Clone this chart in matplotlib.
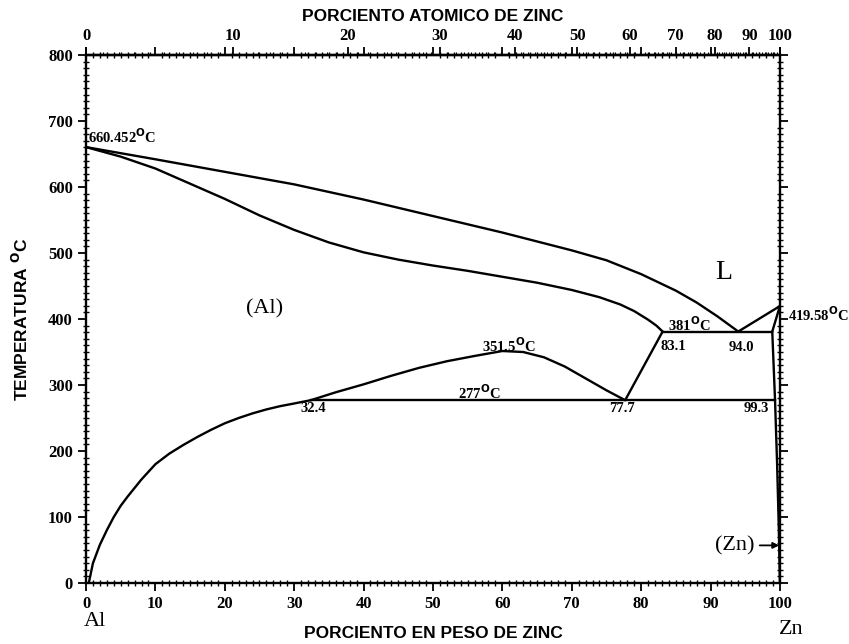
import numpy as np
import matplotlib
matplotlib.use('Agg')
import matplotlib.pyplot as plt
from matplotlib.ticker import MultipleLocator, FixedLocator

# Al-Zn phase diagram, wt% Zn on the bottom axis, at% Zn on top

# liquidus, Al side: from the Al melting point down to the eutectic
liq_w = [0.0, 10, 20, 30, 40, 50, 60, 70, 75, 80, 85, 88, 91, 94.0]
liq_t = [660.452, 642, 623, 604, 581, 556, 531, 504, 489, 468, 443, 425, 404, 381]

# solidus of (Al)
sol_w = [0.0, 5, 10, 15, 20, 25, 30, 35, 40, 45, 50, 55, 60, 65, 70, 74, 77, 79, 81, 82.2, 83.1]
sol_t = [660.452, 646, 628, 605, 582, 557, 535, 516, 501, 490, 481, 473, 464, 455, 444, 433,
         422, 412, 399, 390, 381]

# solvus of (Al), down to room temperature
solv_w = [0.4, 1, 2, 3, 4, 5, 6, 8, 10, 12, 14, 16, 18, 20, 22, 24, 26, 28, 30, 32.4]
solv_t = [0.0, 30, 58, 80, 100, 117, 131, 157, 180, 196, 209, 221, 232, 242, 250, 257, 263,
          268, 272, 277]

# miscibility gap in (Al)
gap_w = [32.4, 36, 40, 44, 48, 52, 56, 60, 63, 66, 69, 72, 75, 77.7]
gap_t = [277, 289, 301, 314, 326, 336, 344, 351.5, 350, 342, 328, 310, 292, 277]

# (Al) boundary between the eutectoid and the eutectic
al_w = [77.7, 83.1]
al_t = [277, 381]

# liquidus and solidus, Zn side
zn_liq_w = [94.0, 100.0]
zn_liq_t = [381, 419.58]
zn_sol_w = [98.9, 100.0]
zn_sol_t = [381, 419.58]

# solvus of (Zn)
zn_solv_w = [98.9, 99.3, 99.6, 99.85, 100.0]
zn_solv_t = [381, 277, 180, 80, 0]

# invariant lines
eut_w = [83.1, 98.9]
eut_t = 381
eutd_w = [32.4, 99.3]
eutd_t = 277

at_ticks = [0, 10, 20, 30, 40, 50, 60, 70, 80, 90, 100]

M_ZN = 65.38
M_AL = 26.98


def at2wt(a):
    a = np.clip(np.asarray(a, dtype=float), 0, 100)
    return 100 * a * M_ZN / (a * M_ZN + (100 - a) * M_AL)


def wt2at(w):
    w = np.clip(np.asarray(w, dtype=float), 0, 100)
    nz = w / M_ZN
    na = (100 - w) / M_AL
    return 100 * nz / (nz + na)


plt.rcParams['font.family'] = 'Liberation Serif'
plt.rcParams['font.weight'] = 'bold'
plt.rcParams['font.size'] = 12

lab_font = {'family': 'Liberation Serif', 'weight': 'bold', 'size': 10.5}
axis_font = {'family': 'Liberation Sans', 'weight': 'bold', 'size': 12.5}
big = {'family': 'Liberation Serif', 'weight': 'normal', 'size': 16}

fig = plt.figure(figsize=(8.49, 6.44), dpi=100)
ax = fig.add_axes([0.1013, 0.0947, 0.8173, 0.8199])

lw = 1.7
for xs, ys in [(liq_w, liq_t), (sol_w, sol_t), (solv_w, solv_t), (gap_w, gap_t),
               (al_w, al_t), (zn_liq_w, zn_liq_t), (zn_sol_w, zn_sol_t),
               (zn_solv_w, zn_solv_t)]:
    ax.plot(xs, ys, color='black', lw=lw, solid_capstyle='round', solid_joinstyle='round')
ax.plot(eut_w, [eut_t, eut_t], color='black', lw=lw)
ax.plot(eutd_w, [eutd_t, eutd_t], color='black', lw=lw)

ax.set_xlim(0, 100)
ax.set_ylim(0, 800)
for s in ax.spines.values():
    s.set_linewidth(1.7)

ax.xaxis.set_major_locator(MultipleLocator(10))
ax.xaxis.set_minor_locator(MultipleLocator(1))
ax.yaxis.set_major_locator(MultipleLocator(100))
ax.yaxis.set_minor_locator(MultipleLocator(10))
ax.tick_params(which='major', direction='out', length=6, width=1.3, right=True, top=True,
               labelsize=12)
ax.tick_params(which='minor', direction='inout', length=4, width=1.0, right=True, top=True)
ax.tick_params(axis='x', which='both', top=True, labeltop=False)

sec = ax.secondary_xaxis('top', functions=(wt2at, at2wt))
sec.xaxis.set_major_locator(FixedLocator(at_ticks))
sec.xaxis.set_minor_locator(FixedLocator(np.arange(0, 101, 1)))
sec.tick_params(which='major', direction='out', length=6, width=1.3, pad=2, labelsize=12)
sec.tick_params(which='minor', direction='out', length=2.5, width=0.8)
sec.spines['top'].set_linewidth(1.7)

ax.set_xlabel('PORCIENTO EN PESO DE ZINC', fontdict=axis_font, labelpad=10)
sec.set_xlabel('PORCIENTO ATOMICO DE ZINC', fontdict=axis_font, labelpad=5)
ax.set_ylabel('TEMPERATURA $^{\\mathrm{O}}$C', fontdict=axis_font, labelpad=12)

deg = '$^{\\mathrm{O}}$C'
ax.text(0.3, 676, '660.452' + deg, fontdict=lab_font, ha='left', va='center')
ax.text(61.0, 360, '351.5' + deg, fontdict=lab_font, ha='center', va='center')
ax.text(56.7, 289, f'{eutd_t}' + deg, fontdict=lab_font, ha='center', va='center')
ax.text(87.0, 392, f'{eut_t}' + deg, fontdict=lab_font, ha='center', va='center')
ax.text(101.2, 406, '419.58' + deg, fontdict=lab_font, ha='left', va='center',
        clip_on=False)
ax.text(32.7, 265, '32.4', fontdict=lab_font, ha='center', va='center')
ax.text(77.2, 265, '77.7', fontdict=lab_font, ha='center', va='center')
ax.text(96.6, 264, '99.3', fontdict=lab_font, ha='center', va='center')
ax.text(84.6, 358, '83.1', fontdict=lab_font, ha='center', va='center')
ax.text(94.4, 357, '94.0', fontdict=lab_font, ha='center', va='center')

ax.text(25.8, 416, '(Al)', fontdict=big, ha='center', va='center')
ax.text(91.9, 470, 'L', family='Liberation Serif', weight='normal', fontsize=20,
        ha='center', va='center')
ax.annotate('(Zn)', xy=(99.9, 57), xytext=(96.3, 57), fontsize=16, family='Liberation Serif',
            weight='normal', ha='right', va='center',
            arrowprops=dict(arrowstyle='-|>', color='black', lw=1.3,
                            mutation_scale=9, shrinkA=2, shrinkB=0))
ax.text(1.3, -59, 'Al', fontdict=big, ha='center', va='center', clip_on=False)
ax.text(101.6, -71, 'Zn', fontdict=big, ha='center', va='center', clip_on=False)

fig.savefig('out.png', dpi=100)
